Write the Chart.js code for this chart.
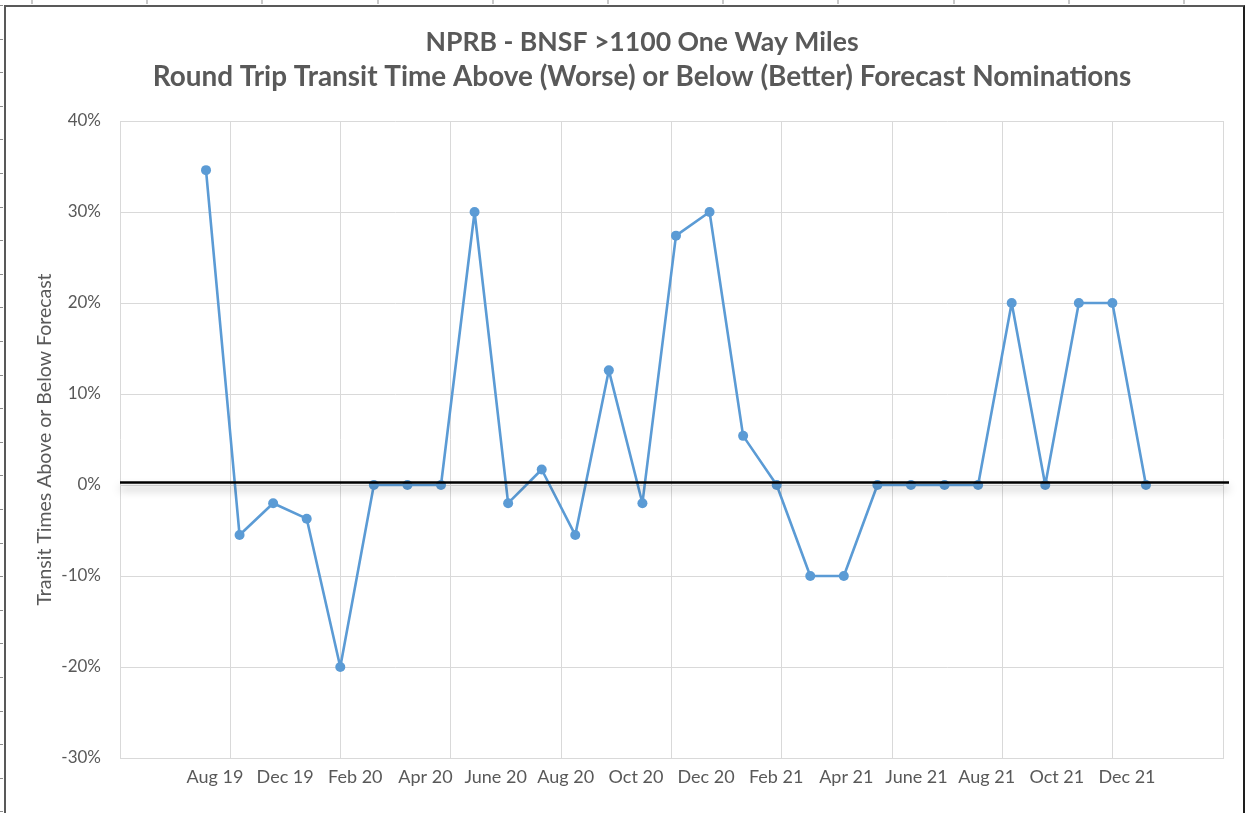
<!DOCTYPE html>
<html>
<head>
<meta charset="utf-8">
<script src="https://cdn.jsdelivr.net/npm/chart.js@4.4.0/dist/chart.umd.min.js"></script>
<style>
  html, body { margin: 0; padding: 0; background: #fff; overflow: hidden; }
  #wrap { position: relative; width: 1247px; height: 813px; }
  #c { position: absolute; left: 0; top: 0; }
  #frame { position: absolute; left: 4px; top: 5px; width: 1237px; height: 820px;
           border-left: 2px solid #595959; border-top: 2px solid #595959; border-right: 2px solid #1e1e1e;
           pointer-events: none; }
  #topticks { position: absolute; left: 0; top: 0; width: 1247px; height: 4px;
              background: repeating-linear-gradient(to right, transparent 0 31px, #c8c8c8 31px 33px, transparent 33px 115.2px); }
  #leftticks { position: absolute; left: 0; top: 0; width: 3px; height: 813px;
               background: repeating-linear-gradient(to bottom, transparent 0 5px, #8c8c8c 5px 6px, transparent 6px 33.6px); }
</style>
</head>
<body>
<div id="wrap">
  <canvas id="c" width="1247" height="813"></canvas>
  <div id="topticks"></div>
  <div id="leftticks"></div>
  <div id="frame"></div>
</div>
<script>
// ---- data ----
const titleLines = ['NPRB - BNSF >1100 One Way Miles',
                    'Round Trip Transit Time Above (Worse) or Below (Better) Forecast Nominations'];
const yAxisTitle = 'Transit Times Above or Below Forecast';
const tickLabels = ['Aug 19', 'Dec 19', 'Feb 20', 'Apr 20', 'June 20', 'Aug 20', 'Oct 20',
                    'Dec 20', 'Feb 21', 'Apr 21', 'June 21', 'Aug 21', 'Oct 21', 'Dec 21'];
const values = [34.6, -5.5, -2, -3.7, -20, 0, 0, 0, 30, -2, 1.7, -5.5, 12.6, -2,
                27.4, 30, 5.4, 0, -10, -10, 0, 0, 0, 0, 20, 0, 20, 20, 0];
const yTicks = [-30, -20, -10, 0, 10, 20, 30, 40];

// ---- axis geometry (in point-index units) ----
const X_MIN = -2.562;
const GRID_STEP = 3.2857;
const GRID_COUNT = 10;
const X_MAX = X_MIN + GRID_STEP * GRID_COUNT;
const LABEL_START = 0.268;
const LABEL_STEP = 2.0897;

const FONT = 'Lato, "Open Sans", "Liberation Sans", sans-serif';
const TXT = '#595959';
const GRID = '#d9d9d9';

// two-line title, drawn as text on the canvas
const titlePlugin = {
  id: 'twoLineTitle',
  afterDraw(chart) {
    const ctx = chart.ctx;
    const cx = 642;
    const styles = [{ size: 26.6, y: 42 }, { size: 27.9, y: 77 }];
    ctx.save();
    ctx.fillStyle = TXT;
    ctx.textAlign = 'center';
    ctx.textBaseline = 'middle';
    titleLines.forEach((line, i) => {
      ctx.font = 'bold ' + styles[i].size + 'px ' + FONT;
      ctx.fillText(line, cx, styles[i].y);
    });
    ctx.restore();
  }
};

const zeroLine = {
  id: 'zeroLine',
  afterDatasetsDraw(chart) {
    const { ctx, chartArea, scales } = chart;
    const y = scales.y.getPixelForValue(0) - 2.5;
    ctx.save();
    ctx.shadowColor = 'rgba(0,0,0,0.35)';
    ctx.shadowBlur = 8;
    ctx.shadowOffsetY = 6;
    ctx.strokeStyle = '#000';
    ctx.lineWidth = 2.6;
    ctx.beginPath();
    ctx.moveTo(chartArea.left, y);
    ctx.lineTo(chartArea.right + 6, y);
    ctx.stroke();
    ctx.restore();
  }
};

new Chart(document.getElementById('c'), {
  type: 'line',
  data: {
    datasets: [{
      data: values.map((v, i) => ({ x: i, y: v })),
      borderColor: '#5b9bd5',
      backgroundColor: '#5b9bd5',
      borderWidth: 2.6,
      borderJoinStyle: 'round',
      borderCapStyle: 'round',
      pointRadius: 5,
      pointBorderWidth: 0,
      pointBackgroundColor: '#5b9bd5',
      tension: 0,
      clip: false
    }]
  },
  options: {
    responsive: false,
    animation: false,
    events: [],
    layout: { padding: { left: 0, right: 24, top: 121, bottom: 0 } },
    plugins: {
      legend: { display: false },
      tooltip: { enabled: false },
      title: { display: false }
    },
    scales: {
      x: {
        type: 'linear',
        min: X_MIN,
        max: X_MAX,
        afterBuildTicks(scale) {
          const t = [];
          for (let k = 0; k <= GRID_COUNT; k++) t.push({ value: X_MIN + GRID_STEP * k, grid: true });
          tickLabels.forEach((lab, i) => t.push({ value: LABEL_START + LABEL_STEP * i, grid: false, text: lab }));
          t.sort((a, b) => a.value - b.value);
          scale.ticks = t;
        },
        afterFit(scale) { scale.height = 55; },
        ticks: {
          autoSkip: false,
          maxRotation: 0,
          minRotation: 0,
          padding: 8,
          color: TXT,
          font: { family: FONT, size: 18 },
          callback(value, index, ticks) { return ticks[index].grid ? '' : ticks[index].text; }
        },
        grid: {
          drawTicks: false,
          color: (ctx) => (ctx.tick && ctx.tick.grid) ? GRID : 'rgba(0,0,0,0)',
          lineWidth: 1
        },
        border: { display: true, color: GRID, width: 1 }
      },
      y: {
        min: yTicks[0],
        max: yTicks[yTicks.length - 1],
        afterBuildTicks(scale) { scale.ticks = yTicks.map(v => ({ value: v })); },
        afterFit(scale) { scale.width = 120; },
        ticks: {
          padding: 19,
          color: TXT,
          font: { family: FONT, size: 17 },
          callback: (v) => v + '%'
        },
        grid: { drawTicks: false, color: GRID, lineWidth: 1 },
        border: { display: false },
        title: {
          display: true,
          text: yAxisTitle,
          color: TXT,
          font: { family: FONT, size: 19.5 },
          padding: { top: 33, bottom: 0 }
        }
      }
    }
  },
  plugins: [zeroLine, titlePlugin]
});
</script>
</body>
</html>
